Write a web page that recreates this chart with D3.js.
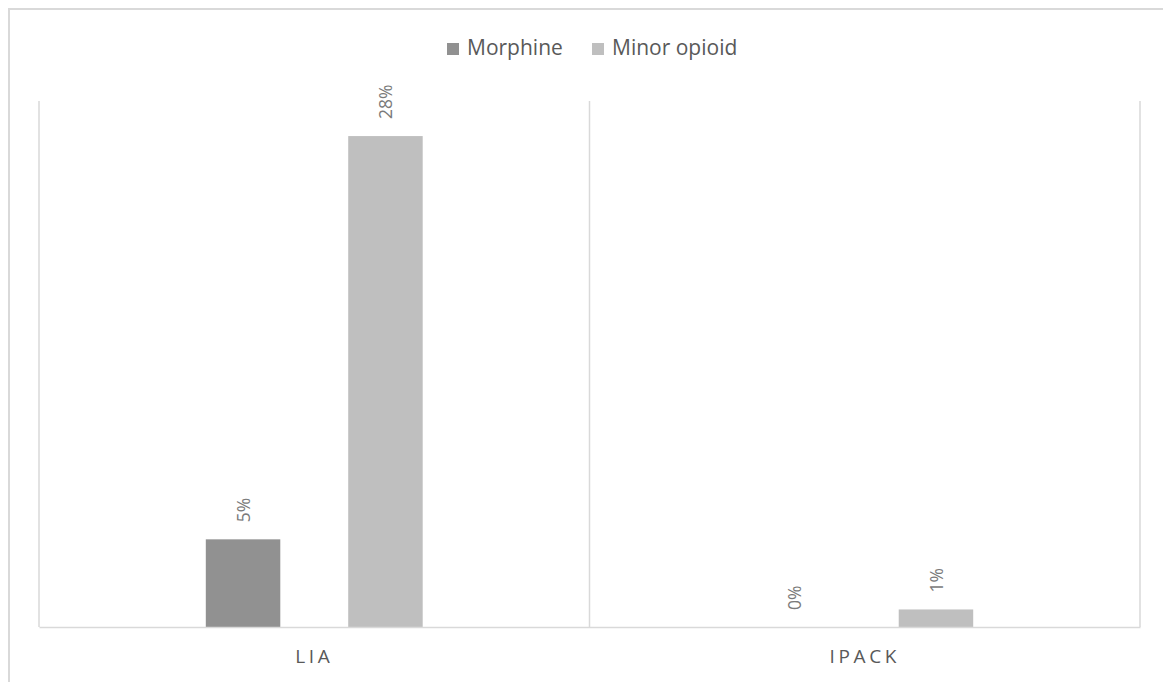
<!DOCTYPE html>
<html>
<head>
<meta charset="utf-8">
<script src="https://cdn.jsdelivr.net/npm/d3@7"></script>
<style>
  html, body { margin: 0; padding: 0; background: #fff; }
  svg { display: block; font-family: "Open Sans", "Noto Sans", sans-serif; }
</style>
</head>
<body>
<svg id="chart" width="1163" height="682"></svg>
<script>
// Share of patients receiving each opioid type, by analgesia technique
const categories = ["LIA", "IPACK"];
const seriesNames = ["Morphine", "Minor opioid"];
const morphine = [0.05, 0.00];
const minorOpioid = [0.28, 0.01];
const seriesColors = ["#919191", "#bfbfbf"];

const svg = d3.select("#chart");
const W = 1163, H = 682;

// Chart frame (runs past the right and bottom edges of the view)
svg.append("rect")
  .attr("x", 9).attr("y", 9)
  .attr("width", W + 40).attr("height", H + 40)
  .attr("fill", "#fff")
  .attr("stroke", "#d9d9d9")
  .attr("stroke-width", 2);

const plot = { left: 39, right: 1140, top: 101, bottom: 627 };

const x0 = d3.scaleBand()
  .domain(categories)
  .range([plot.left, plot.right])
  .paddingInner(0).paddingOuter(0);

const groupInset = x0.bandwidth() * 0.303;
const x1 = d3.scaleBand()
  .domain(seriesNames)
  .range([groupInset, x0.bandwidth() - groupInset])
  .paddingInner(0.477).paddingOuter(0);

const y = d3.scaleLinear()
  .domain([0, 0.30])
  .range([plot.bottom, plot.top]);

const rows = categories.map((c, i) => ({
  category: c,
  values: [
    { series: seriesNames[0], value: morphine[i], color: seriesColors[0] },
    { series: seriesNames[1], value: minorOpioid[i], color: seriesColors[1] }
  ]
}));

// Category dividers
const dividers = [plot.left, ...categories.map(c => x0(c) + x0.bandwidth())];
svg.append("g").selectAll("line")
  .data(dividers)
  .join("line")
  .attr("x1", d => d).attr("x2", d => d)
  .attr("y1", plot.top).attr("y2", plot.bottom)
  .attr("stroke", "#d9d9d9")
  .attr("stroke-width", 1.5);

// Bars
const groups = svg.append("g").selectAll("g")
  .data(rows)
  .join("g")
  .attr("transform", d => `translate(${x0(d.category)},0)`);

groups.selectAll("rect")
  .data(d => d.values)
  .join("rect")
  .attr("x", d => x1(d.series))
  .attr("width", x1.bandwidth())
  .attr("y", d => y(d.value))
  .attr("height", d => y(0) - y(d.value))
  .attr("fill", d => d.color);

// Value labels, rotated
groups.selectAll("text")
  .data(d => d.values)
  .join("text")
  .attr("transform", d => `translate(${x1(d.series) + x1.bandwidth() / 2},${y(d.value) - 17}) rotate(-90)`)
  .attr("text-anchor", "start")
  .attr("dominant-baseline", "central")
  .attr("fill", "#7a7a7a")
  .attr("font-size", 17.5)
  .text(d => d3.format(".0%")(d.value));

// Baseline axis
const xAxis = d3.axisBottom(x0).tickSize(0).tickPadding(0);
const axisG = svg.append("g")
  .attr("transform", `translate(0,${plot.bottom})`)
  .call(xAxis);
axisG.select(".domain")
  .attr("stroke", "#d9d9d9")
  .attr("stroke-width", 1.5);
axisG.selectAll(".tick text")
  .attr("y", 36)
  .attr("dy", 0)
  .attr("fill", "#595959")
  .attr("font-size", 19)
  .attr("letter-spacing", 3.6)
  .attr("font-family", "\"Open Sans\", \"Noto Sans\", sans-serif");

// Legend
const legendItems = [
  { name: seriesNames[0], color: seriesColors[0], x: 447 },
  { name: seriesNames[1], color: seriesColors[1], x: 592 }
];
const legend = svg.append("g");
const li = legend.selectAll("g")
  .data(legendItems)
  .join("g")
  .attr("transform", d => `translate(${d.x},43)`);
li.append("rect")
  .attr("width", 12).attr("height", 12)
  .attr("fill", d => d.color);
li.append("text")
  .attr("x", 20).attr("y", 11.5)
  .attr("fill", "#595959")
  .attr("font-size", 21)
  .text(d => d.name);
</script>
</body>
</html>
